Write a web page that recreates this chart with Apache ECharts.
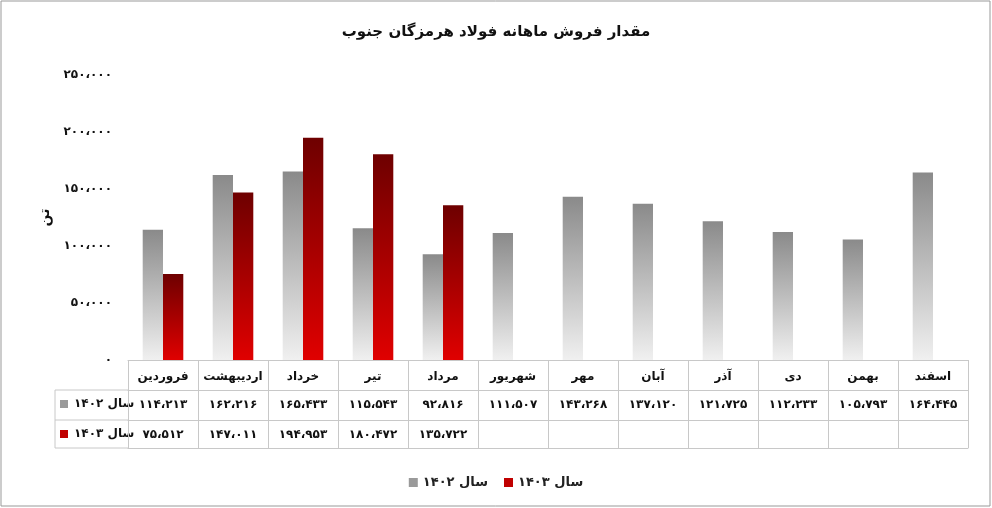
<!DOCTYPE html>
<html><head><meta charset="utf-8">
<script src="https://cdn.jsdelivr.net/npm/echarts@6/dist/echarts.min.js"></script>
<style>html,body{margin:0;padding:0;background:#fff}#c{width:992px;height:508px}</style>
</head><body><div id="c"></div>
<script>
const categories = ['فروردین','اردیبهشت','خرداد','تیر','مرداد','شهریور','مهر','آبان','آذر','دی','بهمن','اسفند'];
const sales1402 = [114213,162216,165433,115543,92816,111507,143268,137120,121725,112233,105793,164445];
const sales1403 = [75512,147011,194953,180472,135722,null,null,null,null,null,null,null];
const seriesNames = ['سال ۱۴۰۲','سال ۱۴۰۳'];
const titleText = 'مقدار فروش ماهانه فولاد هرمزگان جنوب';
const unitText = 'تن';

const fa = '۰۱۲۳۴۵۶۷۸۹';
function faNum(v){
  if(v==null) return '';
  const s = String(v).replace(/\B(?=(\d{3})+(?!\d))/g,'،');
  return s.replace(/\d/g,d=>fa[d]);
}
const F = 'DejaVu Sans';
const grayGrad = new echarts.graphic.LinearGradient(0,0,0,1,[{offset:0,color:'#8a8a8a'},{offset:1,color:'#f0f0f0'}]);
const redGrad = new echarts.graphic.LinearGradient(0,0,0,1,[{offset:0,color:'#6e0000'},{offset:1,color:'#e00000'}]);
const chart = echarts.init(document.getElementById('c'));
const base = {type:'category',data:categories,position:'bottom',gridIndex:0,axisTick:{show:false},
  axisLine:{lineStyle:{color:'#c8c8c8'}}};
const lbl = {fontFamily:F,fontWeight:'bold',fontSize:12,color:'#111',margin:9,interval:0};
chart.setOption({
  animation:false,
  title:{text:titleText,left:'center',top:20,textStyle:{fontFamily:F,fontSize:15,fontWeight:'bold',color:'#111'}},
  grid:{left:128,right:24,top:75,bottom:148},
  legend:{bottom:14,left:'center',itemWidth:9,itemHeight:9,itemGap:16,icon:'rect',
    textStyle:{fontFamily:F,fontWeight:'bold',fontSize:13,color:'#222'},
    data:[{name:seriesNames[0],itemStyle:{color:'#9a9a9a'}},{name:seriesNames[1],itemStyle:{color:'#c00000'}}]},
  xAxis:[
    Object.assign({},base,{axisTick:{show:true,length:88,interval:0,lineStyle:{color:'#c8c8c8'}},axisLabel:Object.assign({},lbl,{margin:11})}),
    Object.assign({},base,{offset:30,data:sales1402.map(faNum),axisLabel:lbl}),
    Object.assign({},base,{offset:60,data:sales1403.map(faNum),axisLabel:lbl}),
    Object.assign({},base,{offset:88,axisLabel:{show:false}})
  ],
  yAxis:{type:'value',min:0,max:250000,interval:50000,splitLine:{show:false},axisLine:{show:false},
    name:unitText,nameLocation:'middle',nameGap:75,nameRotate:90,
    nameTextStyle:{fontFamily:F,fontWeight:'bold',fontSize:14,color:'#111'},
    axisLabel:{fontFamily:F,fontWeight:'bold',fontSize:12,color:'#111',margin:16,formatter:v=>faNum(v)}},
  series:[
    {name:seriesNames[0],type:'bar',data:sales1402,xAxisIndex:0,barGap:'0%',barCategoryGap:'42%',itemStyle:{color:grayGrad}},
    {name:seriesNames[1],type:'bar',data:sales1403,xAxisIndex:0,itemStyle:{color:redGrad}}
  ],
  graphic:[
    {type:'rect',shape:{x:1,y:1,width:989,height:505},style:{fill:'none',stroke:'#999',lineWidth:1}},
    {type:'line',shape:{x1:55,y1:390,x2:128,y2:390},style:{stroke:'#c8c8c8'}},
    {type:'line',shape:{x1:55,y1:420,x2:128,y2:420},style:{stroke:'#c8c8c8'}},
    {type:'line',shape:{x1:55,y1:448,x2:128,y2:448},style:{stroke:'#c8c8c8'}},
    {type:'line',shape:{x1:55,y1:390,x2:55,y2:448},style:{stroke:'#c8c8c8'}},
    {type:'rect',shape:{x:60,y:400,width:8,height:8},style:{fill:'#9a9a9a'}},
    {type:'text',x:74,y:398,style:{text:seriesNames[0],font:'bold 12px "DejaVu Sans"',fill:'#111'}},
    {type:'rect',shape:{x:60,y:430,width:8,height:8},style:{fill:'#c00000'}},
    {type:'text',x:74,y:428,style:{text:seriesNames[1],font:'bold 12px "DejaVu Sans"',fill:'#111'}}
  ]
});
</script></body></html>
